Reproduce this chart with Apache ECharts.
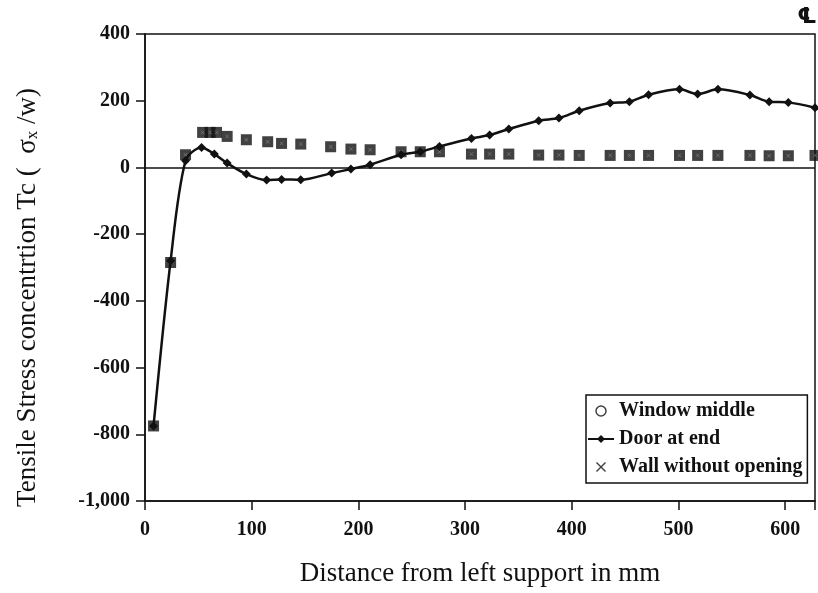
<!DOCTYPE html>
<html>
<head>
<meta charset="utf-8">
<script src="https://cdn.jsdelivr.net/npm/echarts@6/dist/echarts.min.js"></script>
<style>
  html, body { margin: 0; padding: 0; background: #fff; }
  #main { width: 818px; height: 593px; }
</style>
</head>
<body>
<div id="main"></div>
<script>
// 距左支座距离 (mm) 与应力集中系数
var windowX = [8, 24, 38, 54, 61, 67, 77, 95, 115, 128, 146, 174, 193, 211, 240, 258, 276, 306, 323, 341, 369, 388, 407, 436, 454, 472, 501, 518, 537, 567, 585, 603, 628];
var windowValues = [-775, -285, 38, 105, 105, 105, 93, 83, 77, 72, 70, 62, 55, 53, 47, 47, 47, 40, 40, 40, 37, 37, 36, 36, 36, 36, 36, 36, 36, 36, 35, 35, 36];
var wallX = windowX;
var wallValues = [-775, -285, 38, 105, 105, 105, 93, 83, 77, 72, 70, 62, 55, 53, 47, 47, 47, 40, 40, 40, 37, 37, 36, 36, 36, 36, 36, 36, 36, 36, 35, 35, 36];
var doorX = [8, 24, 38, 53, 65, 77, 95, 114, 128, 146, 175, 193, 211, 240, 258, 276, 306, 323, 341, 369, 388, 407, 436, 454, 472, 501, 518, 537, 567, 585, 603, 628];
var doorValues = [-775, -280, 20, 60, 40, 13, -20, -38, -36, -37, -17, -5, 8, 38, 47, 63, 87, 97, 115, 140, 148, 170, 193, 197, 218, 234, 220, 234, 217, 197, 195, 179];
var yTicks = [-1000, -800, -600, -400, -200, 0, 200, 400];

function pairs(xs, ys) {
    return xs.map(function (x, i) { return [x, ys[i]]; });
}

var serif = '"Liberation Serif", "DejaVu Serif", serif';
var crossPath = 'path://M1,0 L5,4 L9,0 L10,1 L6,5 L10,9 L9,10 L5,6 L1,10 L0,9 L4,5 L0,1 Z';

var myChart = echarts.init(document.getElementById('main'));

var option = {
    backgroundColor: '#fff',
    animation: false,
    grid: {
        left: 145, right: 3, top: 34, bottom: 92,
        show: true, borderColor: '#111', borderWidth: 1.5
    },
    legend: {
        orient: 'vertical',
        left: 586, top: 395,
        backgroundColor: '#fff',
        borderColor: '#111', borderWidth: 1.5,
        padding: [6, 5, 6, 1],
        itemGap: 8,
        itemWidth: 26, itemHeight: 10,
        textStyle: { fontFamily: serif, fontWeight: 'bold', fontSize: 20, color: '#111' },
        data: [
            { name: 'Window middle', icon: 'circle', itemStyle: { color: '#fff', borderColor: '#111', borderWidth: 1.5 } },
            { name: 'Door at end' },
            { name: 'Wall without opening', icon: crossPath, itemStyle: { color: '#111', borderWidth: 0 } }
        ]
    },
    xAxis: {
        type: 'value',
        min: 0, max: 628, interval: 100,
        name: 'Distance from left support in mm',
        nameLocation: 'middle', nameGap: 59,
        nameTextStyle: { fontFamily: serif, fontSize: 27, color: '#111' },
        axisLine: { onZero: false, lineStyle: { color: '#111', width: 1.5 } },
        axisTick: { length: 9, lineStyle: { color: '#111', width: 1.5 } },
        axisLabel: {
            margin: 19, fontFamily: serif, fontWeight: 'bold', fontSize: 20, color: '#111',
            formatter: function (v) { return v % 100 === 0 ? String(v) : ''; }
        },
        splitLine: { show: false }
    },
    yAxis: {
        type: 'value',
        min: yTicks[0], max: yTicks[yTicks.length - 1], interval: 200,
        name: 'Tensile Stress concentrtion Tc (  σ{s|x} /w)',
        nameLocation: 'middle', nameGap: 104, nameRotate: 90,
        nameTextStyle: {
            fontFamily: serif, fontSize: 27, color: '#111',
            padding: [0, 60, 0, 0],
            rich: { s: { fontFamily: serif, fontSize: 17, color: '#111', verticalAlign: 'bottom', padding: [10, 0, 0, 0] } }
        },
        axisLine: { show: true, onZero: false, lineStyle: { color: '#111', width: 1.5 } },
        axisTick: { show: true, length: 9, lineStyle: { color: '#111', width: 1.5 } },
        axisLabel: {
            margin: 15, fontFamily: serif, fontWeight: 'bold', fontSize: 20, color: '#111',
            formatter: function (v) { return v === -1000 ? '-1,000' : String(v); }
        },
        splitLine: { show: false }
    },
    graphic: [{
        type: 'text', right: 1, top: 6,
        style: { text: '℄', font: 'bold 22px "DejaVu Sans"', fill: '#111' }
    }],
    series: [
        {
            name: 'Window middle',
            type: 'scatter',
            symbol: 'rect', symbolSize: 11,
            itemStyle: { color: '#111' },
            data: pairs(windowX, windowValues)
        },
        {
            name: 'Wall without opening',
            type: 'scatter',
            symbol: crossPath, symbolSize: 4,
            itemStyle: { color: '#888' },
            data: pairs(wallX, wallValues)
        },
        {
            name: 'Door at end',
            type: 'line',
            smooth: 0.3,
            symbol: 'diamond', symbolSize: 9,
            lineStyle: { color: '#111', width: 2.5 },
            itemStyle: { color: '#111' },
            data: pairs(doorX, doorValues),
            markLine: {
                silent: true, symbol: 'none',
                label: { show: false },
                lineStyle: { color: '#111', width: 1.5, type: 'solid' },
                data: [{ yAxis: 0 }]
            }
        }
    ]
};

myChart.setOption(option);
</script>
</body>
</html>
